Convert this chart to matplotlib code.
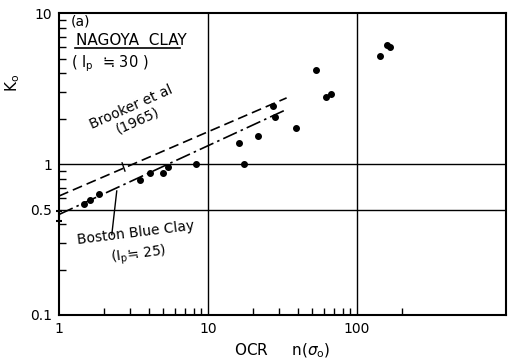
import matplotlib.pyplot as plt
from matplotlib.ticker import FixedLocator, NullFormatter

# measured points (Nagoya clay)
ocr = [1.48, 1.61, 1.86, 3.50, 4.05, 4.95, 5.37, 8.3, 17.5, 16.1, 21.7,
       27.4, 28.2, 39.2, 53.1, 61.7, 67.3, 143, 158, 166]
k0 = [0.541, 0.575, 0.637, 0.782, 0.879, 0.879, 0.964, 1.01, 1.01, 1.38, 1.54,
      2.44, 2.05, 1.74, 4.19, 2.80, 2.94, 5.19, 6.21, 5.96]

# normally consolidated range at OCR = 1
nc_ocr = [1.0]
nc_k0 = [0.452]
nc_err = [[0.033], [0.036]]

# trend lines
brooker_x = [1.0, 33.7]
brooker_y = [0.615, 2.75]
boston_x = [1.0, 33.2]
boston_y = [0.464, 2.29]

fig = plt.figure(figsize=(5.09, 3.60), dpi=100)
ax = fig.add_axes([0.116, 0.125, 0.878, 0.838])
ax.set_xscale('log')
ax.set_yscale('log')
ax.set_xlim(1, 1000)
ax.set_ylim(0.1, 10)

for v in [10, 100]:
    ax.axvline(v, color='black', lw=1.0)
for v in [0.5, 1]:
    ax.axhline(v, color='black', lw=1.0)

ax.plot(brooker_x, brooker_y, color='black', lw=1.2, dashes=(6, 3))
ax.plot(boston_x, boston_y, color='black', lw=1.2, dashes=(9, 2.5, 1.5, 2.5))
ax.plot(ocr, k0, 'o', color='black', ms=4)
ax.errorbar(nc_ocr, nc_k0, yerr=nc_err, fmt='none', ecolor='black',
            elinewidth=1.5, capsize=2.5, capthick=1.5, clip_on=False)

ax.xaxis.set_major_locator(FixedLocator([1, 10, 100]))
ax.xaxis.set_minor_locator(FixedLocator([2, 3, 4, 5, 6, 7, 8, 9,
                                         20, 30, 40, 50, 60, 70, 80, 90, 200]))
ax.yaxis.set_major_locator(FixedLocator([0.1, 0.5, 1, 10]))
ax.yaxis.set_minor_locator(FixedLocator([0.2, 0.3, 0.4, 0.6, 0.7, 0.8, 0.9,
                                         2, 3, 4, 5, 6, 7, 8, 9]))
ax.set_xticklabels(['1', '10', '100'])
ax.set_yticklabels(['0.1', '0.5', '1', '10'])
ax.xaxis.set_minor_formatter(NullFormatter())
ax.yaxis.set_minor_formatter(NullFormatter())
ax.tick_params(which='both', direction='in', labelsize=10, length=0, pad=5)
ax.tick_params(which='minor', length=5, width=1)
for s in ax.spines.values():
    s.set_linewidth(1.5)

ax.set_xlabel(r'OCR     n($\sigma_\mathregular{o}$)', fontsize=11, labelpad=4)
fig.text(13 / 509, 1 - 83 / 360, r'$\mathregular{K_o}$', fontsize=11,
         rotation=90, ha='center', va='center')

ax.text(1.2, 8.79, '(a)', fontsize=10, va='center')
ax.text(1.3, 6.6, 'NAGOYA  CLAY', fontsize=11, va='center')
ax.plot([1.28, 6.5], [5.9, 5.9], color='black', lw=1.2)
ax.text(1.2, 4.64, r'( $\mathregular{I_p}$  ≒ 30 )', fontsize=10.5, va='center')

ax.text(3.2, 2.15, 'Brooker et al\n(1965)', fontsize=10, ha='center',
        va='center', rotation=24, linespacing=1.1)
ax.plot([2.65, 2.77], [1.02, 0.90], color='black', lw=1)
ax.text(3.35, 0.29, 'Boston Blue Clay\n' + r'($\mathregular{I_p}$≒ 25)',
        fontsize=10, ha='center', va='center', rotation=7, linespacing=1.4)
ax.plot([2.26, 2.44], [0.341, 0.664], color='black', lw=1)

plt.savefig('out.png', dpi=100)
